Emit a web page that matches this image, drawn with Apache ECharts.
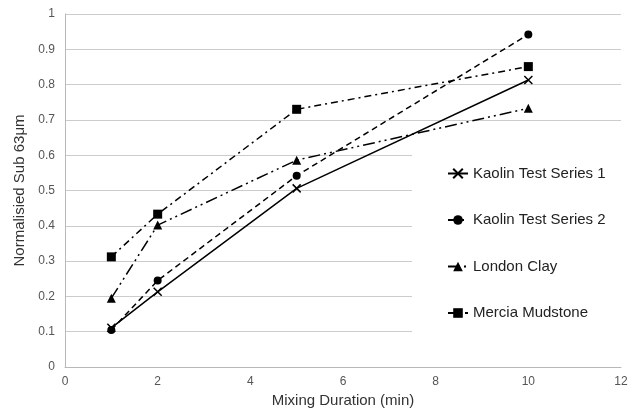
<!DOCTYPE html>
<html>
<head>
<meta charset="utf-8">
<script src="https://cdn.jsdelivr.net/npm/echarts@6/dist/echarts.min.js"></script>
<style>
html,body{margin:0;padding:0;background:#fff;}
#chart{width:637px;height:412px;}
</style>
</head>
<body>
<div id="chart"></div>
<script>
const durations = [1, 2, 5, 10];
const kaolin1 = [0.111, 0.213, 0.506, 0.813];
const kaolin2 = [0.105, 0.245, 0.542, 0.942];
const londonClay = [0.195, 0.402, 0.586, 0.733];
const merciaMudstone = [0.312, 0.433, 0.730, 0.851];
const seriesNames = ['Kaolin Test Series 1', 'Kaolin Test Series 2', 'London Clay', 'Mercia Mudstone'];

const FONT = '"Liberation Sans", Arial, sans-serif';
function pts(vals){ return durations.map((d,i)=>[d, vals[i]]); }

const chart = echarts.init(document.getElementById('chart'), null, {renderer:'canvas'});
chart.setOption({
  animation: false,
  backgroundColor: '#fff',
  grid: {left: 65, right: 16, top: 14, bottom: 45, outerBoundsMode: 'none', containLabel: false},
  xAxis: {
    type: 'value', min: 0, max: 12, interval: 2,
    name: 'Mixing Duration (min)', nameLocation: 'middle', nameGap: 19,
    nameTextStyle: {fontFamily: FONT, fontSize: 15, color: '#333', verticalAlign: 'top'},
    axisLine: {show: true, lineStyle: {color: '#b8b8b8', width: 1}},
    axisTick: {show: false},
    splitLine: {show: false},
    axisLabel: {fontFamily: FONT, fontSize: 12, color: '#555', margin: 9}
  },
  yAxis: {
    type: 'value', min: 0, max: 1, interval: 0.1,
    name: 'Normalisied Sub 63μm', nameLocation: 'middle', nameGap: 36,
    nameTextStyle: {fontFamily: FONT, fontSize: 15, color: '#333'},
    axisLine: {show: true, lineStyle: {color: '#b8b8b8', width: 1}},
    axisTick: {show: false},
    splitLine: {show: true, lineStyle: {color: '#cccccc', width: 1}},
    axisLabel: {fontFamily: FONT, fontSize: 12, color: '#555', margin: 10,
      formatter: v => String(Math.round(v*10)/10)}
  },
  legend: {
    orient: 'vertical', left: 412, top: 150,
    padding: [16, 20, 17, 35],
    itemGap: 31.5, itemWidth: 20, itemHeight: 12,
    backgroundColor: '#fff',
    textStyle: {fontFamily: FONT, fontSize: 15, color: '#222', lineHeight: 14},
    data: seriesNames
  },
  series: [
    {
      name: seriesNames[0], type: 'line', data: pts(kaolin1),
      symbol: 'path://M0,0L10,10M10,0L0,10', symbolSize: 8,
      lineStyle: {color: '#000', width: 1.5, type: 'solid'},
      itemStyle: {color: 'none', borderColor: '#000', borderWidth: 1.5}
    },
    {
      name: seriesNames[1], type: 'line', data: pts(kaolin2),
      symbol: 'circle', symbolSize: 8,
      lineStyle: {color: '#000', width: 1.5, type: [6, 4]},
      itemStyle: {color: '#000'}
    },
    {
      name: seriesNames[2], type: 'line', data: pts(londonClay),
      symbol: 'triangle', symbolSize: 9,
      lineStyle: {color: '#000', width: 1.5, type: [12, 4, 2, 4, 2, 4]},
      itemStyle: {color: '#000'}
    },
    {
      name: seriesNames[3], type: 'line', data: pts(merciaMudstone),
      symbol: 'rect', symbolSize: 9,
      lineStyle: {color: '#000', width: 1.5, type: [7, 4, 2, 4]},
      itemStyle: {color: '#000'}
    }
  ]
});
</script>
</body>
</html>
